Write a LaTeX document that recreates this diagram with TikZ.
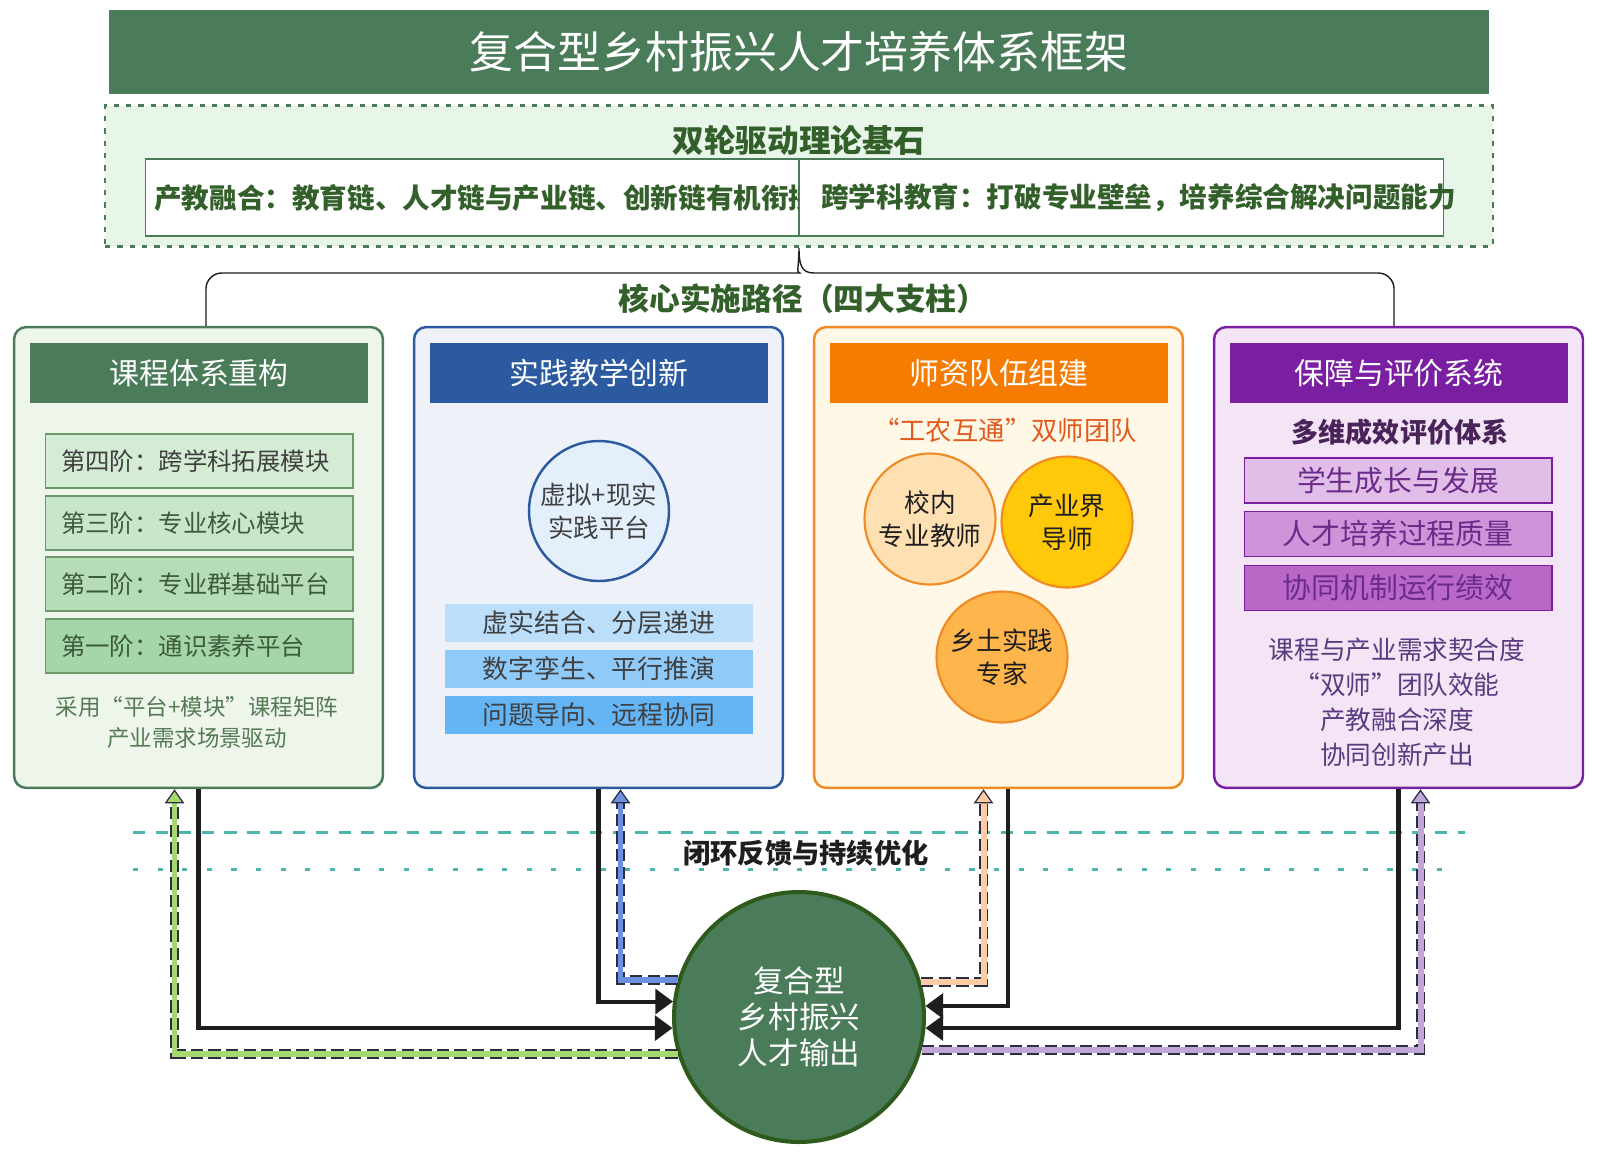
\documentclass[tikz,border=0pt]{standalone}
\usepackage{fontspec}
\setmainfont{Noto Sans CJK SC}
\usetikzlibrary{arrows.meta,positioning,calc}
\definecolor{forest}{HTML}{4A7C59}
\definecolor{forestdark}{HTML}{2E5A1C}
\definecolor{mint}{HTML}{E8F5E9}
\definecolor{leaf}{HTML}{33602A}
\definecolor{greenbg}{HTML}{EEF6EC}
\definecolor{stageline}{HTML}{6A9A6A}
\definecolor{stagetext}{HTML}{3C5A3C}
\definecolor{notegreen}{HTML}{557A55}
\definecolor{stagea}{HTML}{D4EBD4}
\definecolor{stageb}{HTML}{C8E6C9}
\definecolor{stagec}{HTML}{B6DDB8}
\definecolor{staged}{HTML}{A5D6A7}
\definecolor{navy}{HTML}{2C5AA0}
\definecolor{bluebg}{HTML}{EEF2F8}
\definecolor{vrfill}{HTML}{E3F0FC}
\definecolor{bara}{HTML}{BBDEFB}
\definecolor{barb}{HTML}{90CAF9}
\definecolor{barc}{HTML}{64B5F6}
\definecolor{hdorange}{HTML}{F57C00}
\definecolor{ringorange}{HTML}{F08A24}
\definecolor{creambg}{HTML}{FFF8E6}
\definecolor{teamred}{HTML}{E05A1E}
\definecolor{peach}{HTML}{FFE0B2}
\definecolor{gold}{HTML}{FFC90A}
\definecolor{apricot}{HTML}{FDB54C}
\definecolor{hdpurple}{HTML}{7B1FA2}
\definecolor{lilacbg}{HTML}{F3E5F5}
\definecolor{evala}{HTML}{E1BEE7}
\definecolor{evalb}{HTML}{CE93D8}
\definecolor{evalc}{HTML}{BA68C8}
\definecolor{evaltext}{HTML}{6A2C8A}
\definecolor{evalnote}{HTML}{5B3A80}
\definecolor{evalhead}{HTML}{4A235A}
\definecolor{loopteal}{HTML}{4DB6AC}
\definecolor{ink}{HTML}{1E1E1E}
\definecolor{fbedge}{HTML}{2B2D42}
\definecolor{fbgreen}{HTML}{A5D86E}
\definecolor{fbblue}{HTML}{6D8FE0}
\definecolor{fbpeach}{HTML}{FFCBA4}
\definecolor{fblilac}{HTML}{C3A6D8}
\tikzset{
  pillar/.style={
    draw=#1, line width=1.4pt, rounded corners=7pt,
    minimum width=7.38cm, minimum height=9.22cm
  },
  head/.style={
    fill=#1, minimum width=6.76cm, minimum height=1.2cm,
    text=white, font=\fontsize{17pt}{20pt}\selectfont
  },
  stage/.style={
    fill=#1, draw=stageline, line width=0.6pt,
    minimum height=1.08cm, text width=5.52cm, inner xsep=0.32cm,
    align=left, text=stagetext, font=\fontsize{13.9pt}{16pt}\selectfont
  },
  bar/.style={
    fill=#1, minimum width=6.16cm, minimum height=0.76cm,
    text=ink!85, font=\fontsize{14.7pt}{17pt}\selectfont
  },
  evalbar/.style={
    fill=#1, draw=hdpurple, line width=0.6pt,
    minimum width=6.16cm, minimum height=0.9cm,
    text=evaltext, font=\fontsize{16.4pt}{19pt}\selectfont
  },
  mentor/.style={
    circle, fill=#1, draw=ringorange, line width=1.2pt,
    minimum size=2.62cm, inner sep=0pt, align=center,
    text=ink, font=\fontsize{14.6pt}{19pt}\selectfont
  },
  cell/.style={fill=white, draw=forest, line width=0.6pt, minimum height=1.54cm},
  flowarr/.style={draw=ink, line width=2.3pt, -{Triangle[length=10pt,width=14pt]}},
  fb/.style={
    draw=#1, line width=3.4pt,
    -{Triangle[length=8pt,width=11pt,fill=#1,color=fbedge,line width=0.7pt]},
    preaction={draw=fbedge, -, line width=5.4pt, dash pattern=on 7pt off 3pt, shorten >=6pt}
  }
}

\begin{document}
\begin{tikzpicture}[x=0.02cm, y=-0.02cm]
  \useasboundingbox[fill=white] (0,0) rectangle (1599,1157);

  % title
  \node[fill=forest, minimum width=27.6cm, minimum height=1.68cm, text=white,
        font=\fontsize{25pt}{30pt}\selectfont] (title) at (799,52) {复合型乡村振兴人才培养体系框架};

  % theory
  \node[fill=mint, draw=forest, line width=1.5pt, dash pattern=on 3pt off 4pt,
        minimum width=27.76cm, minimum height=2.82cm] (theory) at (799,176) {};
  \node[text=leaf, font=\bfseries\fontsize{18pt}{21pt}\selectfont] (theorytitle) at (799,140) {双轮驱动理论基石};
  \node[cell, minimum width=13.08cm] (leftcell) at (472,197.5) {};
  \node[cell, minimum width=12.9cm] (rightcell) at (1121.5,197.5) {};
  \begin{scope}
    \clip ([xshift=0.4pt]leftcell.south west) rectangle ([xshift=-0.4pt]leftcell.north east);
    \node[anchor=west, inner sep=0pt, text=leaf, font=\bfseries\fontsize{15.7pt}{18pt}\selectfont] (fusion) at (154,198) {产教融合：教育链、人才链与产业链、创新链有机衔接};
  \end{scope}
  \node[anchor=west, inner sep=0pt, text=leaf, font=\bfseries\fontsize{15.7pt}{18pt}\selectfont] (cross) at (821,198) {跨学科教育：打破专业壁垒，培养综合解决问题能力};

  % pillars
  \node[pillar=forest, fill=greenbg] (col1) at (198.5,557.5) {};
  \node[pillar=navy, fill=bluebg] (col2) at (598.5,557.5) {};
  \node[pillar=ringorange, fill=creambg] (col3) at (998.5,557.5) {};
  \node[pillar=hdpurple, fill=lilacbg] (col4) at (1398.5,557.5) {};

  % bracket
  \coordinate (bl) at (206,273);
  \coordinate (br) at (1394,273);
  \draw[ink, line width=0.8pt]
    (bl |- col1.north) [rounded corners=9pt] -- (bl) -- ($(theory.south |- bl)+(-15,0)$) [sharp corners]
    .. controls ($(theory.south |- bl)+(-3,0)$) and ($(theory.south)+(0,18)$) .. (theory.south)
    .. controls ($(theory.south)+(0,18)$) and ($(theory.south |- bl)+(3,0)$) .. ($(theory.south |- bl)+(15,0)$)
    [rounded corners=9pt] -- (br) -- (br |- col4.north);
  \node[text=leaf, font=\bfseries\fontsize{17.5pt}{20pt}\selectfont] (core) at (803,299) {核心实施路径（四大支柱）};

  % curriculum
  \node[head=forest] (head1) at (199,373) {课程体系重构};
  \node[stage=stagea, text=ink!85] (s4) at (199,461) {第四阶：跨学科拓展模块};
  \node[stage=stageb] (s3) at (199,523) {第三阶：专业核心模块};
  \node[stage=stagec] (s2) at (199,584) {第二阶：专业群基础平台};
  \node[stage=staged] (s1) at (199,646) {第一阶：通识素养平台};
  \node[align=center, text=notegreen, font=\fontsize{12.8pt}{17.6pt}\selectfont] (note1) at (197,722.5) {采用“平台+模块”课程矩阵\\产业需求场景驱动};

  % practice
  \node[head=navy] (head2) at (599,373) {实践教学创新};
  \node[circle, draw=navy, line width=1.4pt, fill=vrfill, minimum size=2.8cm, inner sep=0pt,
        align=center, text=ink!85, font=\fontsize{14.5pt}{18.8pt}\selectfont] (vr) at (599,511) {虚拟+现实\\实践平台};
  \node[bar=bara] (p1) at (599,623) {虚实结合、分层递进};
  \node[bar=barb] (p2) at (599,669) {数字孪生、平行推演};
  \node[bar=barc] (p3) at (599,715) {问题导向、远程协同};

  % teachers
  \node[head=hdorange] (head3) at (999,373) {师资队伍组建};
  \node[text=teamred, font=\fontsize{15pt}{18pt}\selectfont] (team) at (1005,430) {“工农互通”双师团队};
  \node[mentor=peach] (campus) at (930,519) {校内\\专业教师};
  \node[mentor=gold] (industry) at (1067,522) {产业界\\导师};
  \node[mentor=apricot] (rural) at (1002,657) {乡土实践\\专家};

  % evaluation
  \node[head=hdpurple] (head4) at (1399,373) {保障与评价系统};
  \node[text=evalhead, font=\bfseries\fontsize{15.4pt}{18pt}\selectfont] (evaltitle) at (1400,432) {多维成效评价体系};
  \node[evalbar=evala] (e1) at (1398,480.5) {学生成长与发展};
  \node[evalbar=evalb] (e2) at (1398,534) {人才培养过程质量};
  \node[evalbar=evalc] (e3) at (1398,588) {协同机制运行绩效};
  \node[align=center, text=evalnote, font=\fontsize{14.6pt}{19.9pt}\selectfont] (note4) at (1397,702.5) {课程与产业需求契合度\\“双师”团队效能\\产教融合深度\\协同创新产出};

  % closed loop
  \draw[loopteal, line width=1.7pt, dash pattern=on 7pt off 6pt] (133,832) -- (1465,832);
  \draw[loopteal, line width=1.7pt, dash pattern=on 3pt off 11pt] (133,869) -- (1447,869);
  \node[text=ink, font=\bfseries\fontsize{15.5pt}{18pt}\selectfont] (loop) at (806,853) {闭环反馈与持续优化};

  \node[circle, fill=forest, draw=forestdark, line width=2.3pt, minimum size=5cm, align=center,
        text=white, font=\fontsize{17.4pt}{20.5pt}\selectfont] (out) at (799,1017) {复合型\\乡村振兴\\人才输出};

  \draw[flowarr] (col1.south) |- (out.185);
  \draw[fb=fbgreen] (out.197) -| ([xshift=-0.48cm]col1.south);
  \draw[flowarr] (col2.south) |- (out.173);
  \draw[fb=fbblue] (out.163) -| ([xshift=0.44cm]col2.south);
  \draw[fb=fbpeach] (out.16) -| ([xshift=-0.3cm]col3.south);
  \draw[flowarr] ([xshift=0.19cm]col3.south) |- (out.5);
  \draw[flowarr] (col4.south) |- (out.355);
  \draw[fb=fblilac] (out.345) -| ([xshift=0.44cm]col4.south);
\end{tikzpicture}
\end{document}
